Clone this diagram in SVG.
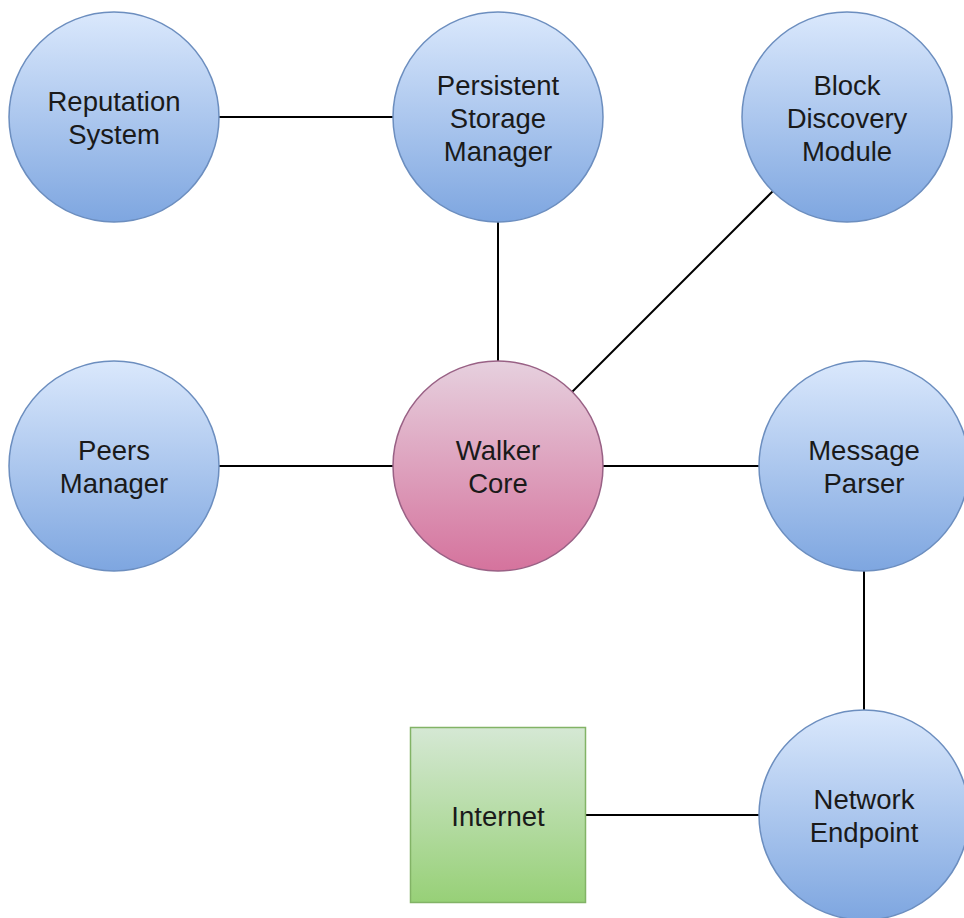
<svg xmlns="http://www.w3.org/2000/svg" width="964" height="918" viewBox="0 0 964 918">
  <style>
    .blue { fill: url(#gBlue); stroke: #6c8ebf; stroke-width: 1.5; }
    .pink { fill: url(#gPink); stroke: #996185; stroke-width: 1.5; }
    .green { fill: url(#gGreen); stroke: #82b366; stroke-width: 1.5; }
    .label { font-family: "Liberation Sans", Arial, sans-serif; font-size: 27.5px; fill: #1a1a1a; text-anchor: middle; }
    .edge { stroke: #000; stroke-width: 2; fill: none; }
  </style>
  <defs>
    <linearGradient id="gBlue" x1="0" y1="0" x2="0" y2="1">
      <stop offset="0" stop-color="#dae8fc"/>
      <stop offset="1" stop-color="#7ea6e0"/>
    </linearGradient>
    <linearGradient id="gPink" x1="0" y1="0" x2="0" y2="1">
      <stop offset="0" stop-color="#e6d0de"/>
      <stop offset="1" stop-color="#d5739d"/>
    </linearGradient>
    <linearGradient id="gGreen" x1="0" y1="0" x2="0" y2="1">
      <stop offset="0" stop-color="#d5e8d4"/>
      <stop offset="1" stop-color="#97d077"/>
    </linearGradient>
  </defs>
  <rect width="964" height="918" fill="#ffffff"/>

  <g id="connectors">
    <line class="edge" x1="219" y1="117" x2="393" y2="117"/>
    <line class="edge" x1="498" y1="222" x2="498" y2="361"/>
    <line class="edge" x1="572" y1="392" x2="773" y2="191"/>
    <line class="edge" x1="219" y1="466" x2="393" y2="466"/>
    <line class="edge" x1="603" y1="466" x2="759" y2="466"/>
    <line class="edge" x1="864" y1="571" x2="864" y2="710"/>
    <line class="edge" x1="586" y1="815" x2="759" y2="815"/>
  </g>

  <g id="reputation-system">
    <circle class="blue" cx="114" cy="117" r="105"/>
    <text class="label" x="114" y="111">Reputation</text>
    <text class="label" x="114" y="144">System</text>
  </g>

  <g id="persistent-storage-manager">
    <circle class="blue" cx="498" cy="117" r="105"/>
    <text class="label" x="498" y="95">Persistent</text>
    <text class="label" x="498" y="128">Storage</text>
    <text class="label" x="498" y="161">Manager</text>
  </g>

  <g id="block-discovery-module">
    <circle class="blue" cx="847" cy="117" r="105"/>
    <text class="label" x="847" y="95">Block</text>
    <text class="label" x="847" y="128">Discovery</text>
    <text class="label" x="847" y="161">Module</text>
  </g>

  <g id="peers-manager">
    <circle class="blue" cx="114" cy="466" r="105"/>
    <text class="label" x="114" y="460">Peers</text>
    <text class="label" x="114" y="493">Manager</text>
  </g>

  <g id="walker-core">
    <circle class="pink" cx="498" cy="466" r="105"/>
    <text class="label" x="498" y="460">Walker</text>
    <text class="label" x="498" y="493">Core</text>
  </g>

  <g id="message-parser">
    <circle class="blue" cx="864" cy="466" r="105"/>
    <text class="label" x="864" y="460">Message</text>
    <text class="label" x="864" y="493">Parser</text>
  </g>

  <g id="network-endpoint">
    <circle class="blue" cx="864" cy="815" r="105"/>
    <text class="label" x="864" y="809">Network</text>
    <text class="label" x="864" y="842">Endpoint</text>
  </g>

  <g id="internet">
    <rect class="green" x="410.5" y="727.5" width="175" height="175"/>
    <text class="label" x="498" y="826">Internet</text>
  </g>
</svg>
